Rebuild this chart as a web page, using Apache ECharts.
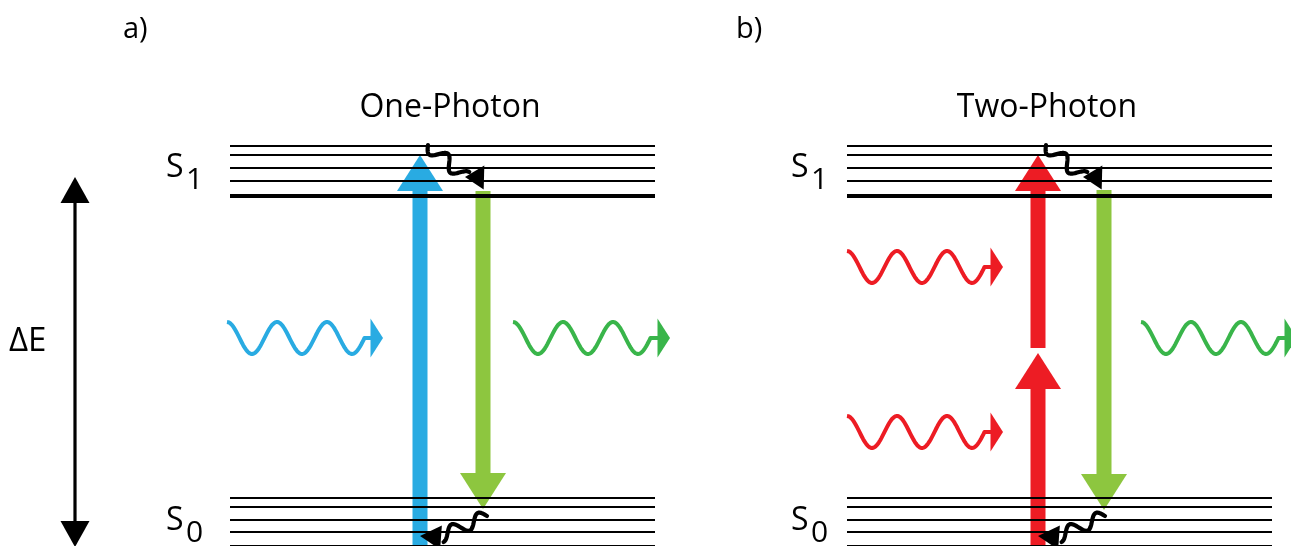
<!DOCTYPE html>
<html>
<head>
<meta charset="utf-8">
<title>One-photon vs two-photon excitation</title>
<script src="https://cdn.jsdelivr.net/npm/echarts@6/dist/echarts.min.js"></script>
<style>
  html, body { margin: 0; padding: 0; background: #fff; }
  #chart { width: 1291px; height: 546px; }
</style>
</head>
<body>
<div id="chart"></div>
<script>
// diagram units follow the picture: x to the right, energy axis drawn downwards
const panelLetters = ['a)', 'b)']
const panelLetterX = [123, 736]
const panelTitles = ['One-Photon', 'Two-Photon']
const panelTitleX = [450, 1047]
const levelSpans = [[230, 655], [847, 1272]]
const s1Levels = [146, 155, 168, 181, 196]
const s0Levels = [498, 507, 520, 532, 547]
const stateLabelX = [166, 791]
const stateNames = ['S1', 'S0']
const stateLabelY = [168, 521]

// vertical transitions: [x, from, to]
const transitions = [
  [420, 560, 155],
  [483, 191, 509],
  [1038, 347, 155],
  [1038, 560, 353],
  [1104, 190, 510],
]
const transitionColours = ['#29abe2', '#8dc63f', '#ed1c24', '#ed1c24', '#8dc63f']

// photons: [xStart, xTip, yMid]
const photons = [
  [227, 383, 338],
  [513, 670, 338],
  [847, 1003, 267],
  [847, 1003, 432],
  [1141, 1297, 338],
]
const photonColours = ['#29abe2', '#39b54a', '#ed1c24', '#ed1c24', '#39b54a']

// vibrational relaxation: [xFrom, yFrom, xTo, yTo, xApex, yApex, xBase, yBase]
const relaxations = [
  [428, 145, 465, 177, 465, 177, 484, 177.5],
  [487, 516, 441, 536, 420, 536, 441, 537.5],
  [1046, 145, 1083, 177, 1083, 177, 1102, 177.5],
  [1105, 516, 1059, 536, 1038, 536, 1059, 537.5],
]

// energy gap arrow: [x, top, bottom]
const deltaE = [[75, 177, 547]]

const chart = echarts.init(document.getElementById('chart'), null, { renderer: 'canvas' })

const levelData = []
levelSpans.forEach((span) => {
  ;[s1Levels, s0Levels].forEach((levels) => {
    levels.forEach((y, i) => {
      levelData.push([span[0], span[1], y, i === levels.length - 1 ? 1 : 0])
    })
  })
})

// labels: [x, y] plus text / font / align looked up by index
const labelData = []
const labelMeta = []
panelLetters.forEach((t, i) => {
  labelData.push([panelLetterX[i], 30])
  labelMeta.push({ text: t, size: 29, align: 'left' })
})
panelTitles.forEach((t, i) => {
  labelData.push([panelTitleX[i], 108])
  labelMeta.push({ text: t, size: 32, align: 'center' })
})
labelData.push([9, 342])
labelMeta.push({ text: 'ΔE', size: 33, align: 'left' })
stateLabelX.forEach((x) => {
  stateNames.forEach((name, j) => {
    labelData.push([x, stateLabelY[j]])
    labelMeta.push({ text: name[0], size: 32, align: 'left' })
    labelData.push([x + 20, stateLabelY[j] + 12])
    labelMeta.push({ text: name.slice(1), size: 30, align: 'left' })
  })
})

function transitionItem(params, api) {
  const x = api.value(0)
  const from = api.coord([x, api.value(1)])
  const to = api.coord([x, api.value(2)])
  const dir = to[1] < from[1] ? -1 : 1
  const headLen = 36
  const headHalf = 23
  const shaftHalf = 7.5
  const baseY = to[1] - dir * headLen
  const colour = transitionColours[params.dataIndex]
  return {
    type: 'group',
    children: [
      {
        type: 'rect',
        shape: {
          x: from[0] - shaftHalf,
          y: Math.min(from[1], baseY),
          width: shaftHalf * 2,
          height: Math.abs(baseY - from[1]) + 1,
        },
        style: { fill: colour },
      },
      {
        type: 'polygon',
        shape: {
          points: [
            [to[0] - headHalf, baseY],
            [to[0], to[1]],
            [to[0] + headHalf, baseY],
          ],
        },
        style: { fill: colour },
      },
    ],
  }
}

function photonItem(params, api) {
  const start = api.coord([api.value(0), api.value(2)])
  const tip = api.coord([api.value(1), api.value(2)])
  const period = 50
  const amp = 16
  const headLen = 12.5
  const headHalf = 19.5
  const colour = photonColours[params.dataIndex]
  const points = []
  const steps = 120
  for (let i = 0; i <= steps; i++) {
    const t = (i / steps) * 2.75 * period
    points.push([start[0] + t, start[1] - amp * Math.cos((2 * Math.PI * t) / period)])
  }
  points.push([tip[0] - headLen + 1, start[1]])
  return {
    type: 'group',
    children: [
      {
        type: 'polyline',
        shape: { points },
        style: { stroke: colour, lineWidth: 4, fill: null, lineJoin: 'round' },
      },
      {
        type: 'polygon',
        shape: {
          points: [
            [tip[0] - headLen, tip[1] - headHalf],
            [tip[0], tip[1]],
            [tip[0] - headLen, tip[1] + headHalf],
          ],
        },
        style: { fill: colour },
      },
    ],
  }
}

function levelItem(params, api) {
  const a = api.coord([api.value(0), api.value(2)])
  const b = api.coord([api.value(1), api.value(2)])
  return {
    type: 'line',
    shape: { x1: a[0], y1: a[1], x2: b[0], y2: b[1] },
    style: { stroke: '#000', lineWidth: api.value(3) ? 4 : 1.8 },
  }
}

function relaxationItem(params, api) {
  const a = api.coord([api.value(0), api.value(1)])
  const b = api.coord([api.value(2), api.value(3)])
  const apex = api.coord([api.value(4), api.value(5)])
  const base = api.coord([api.value(6), api.value(7)])
  const dx = b[0] - a[0]
  const dy = b[1] - a[1]
  const len = Math.hypot(dx, dy)
  const px = -dy / len
  const py = dx / len
  const amp = 6.5
  const points = []
  const steps = 80
  for (let i = 0; i <= steps; i++) {
    const t = i / steps
    const w = amp * Math.sin(2 * Math.PI * 1.75 * t)
    points.push([a[0] + dx * t + px * w, a[1] + dy * t + py * w])
  }
  const hx = base[0] - apex[0]
  const hy = base[1] - apex[1]
  const hl = Math.hypot(hx, hy)
  const half = 12
  const qx = (-hy / hl) * half
  const qy = (hx / hl) * half
  return {
    type: 'group',
    children: [
      {
        type: 'polyline',
        shape: { points },
        style: { stroke: '#000', lineWidth: 4.2, fill: null, lineJoin: 'round', lineCap: 'round' },
      },
      {
        type: 'polygon',
        shape: {
          points: [
            [apex[0], apex[1]],
            [base[0] + qx, base[1] + qy],
            [base[0] - qx, base[1] - qy],
          ],
        },
        style: { fill: '#000' },
      },
    ],
  }
}

function deltaEItem(params, api) {
  const top = api.coord([api.value(0), api.value(1)])
  const bottom = api.coord([api.value(0), api.value(2)])
  const headLen = 26
  const headHalf = 14.5
  return {
    type: 'group',
    children: [
      {
        type: 'line',
        shape: { x1: top[0], y1: top[1] + headLen - 1, x2: bottom[0], y2: bottom[1] - headLen + 1 },
        style: { stroke: '#000', lineWidth: 3.2 },
      },
      {
        type: 'polygon',
        shape: { points: [[top[0], top[1]], [top[0] + headHalf, top[1] + headLen], [top[0] - headHalf, top[1] + headLen]] },
        style: { fill: '#000' },
      },
      {
        type: 'polygon',
        shape: { points: [[bottom[0], bottom[1]], [bottom[0] + headHalf, bottom[1] - headLen], [bottom[0] - headHalf, bottom[1] - headLen]] },
        style: { fill: '#000' },
      },
    ],
  }
}

function labelItem(params, api) {
  const p = api.coord([api.value(0), api.value(1)])
  const meta = labelMeta[params.dataIndex]
  return {
    type: 'text',
    x: p[0],
    y: p[1],
    style: {
      text: meta.text,
      fill: '#000',
      font: meta.size + 'px "Open Sans"',
      align: meta.align,
      verticalAlign: 'middle',
    },
  }
}

const option = {
  animation: false,
  backgroundColor: '#fff',
  grid: { left: 0, right: 0, top: 0, bottom: 0 },
  xAxis: { type: 'value', min: 0, max: 1291, show: false },
  yAxis: { type: 'value', min: 0, max: 546, inverse: true, show: false },
  series: [
    { type: 'custom', name: 'transitions', data: transitions, renderItem: transitionItem, silent: true },
    { type: 'custom', name: 'photons', data: photons, renderItem: photonItem, silent: true },
    { type: 'custom', name: 'levels', data: levelData, renderItem: levelItem, silent: true },
    { type: 'custom', name: 'relaxation', data: relaxations, renderItem: relaxationItem, silent: true },
    { type: 'custom', name: 'deltaE', data: deltaE, renderItem: deltaEItem, silent: true },
    { type: 'custom', name: 'labels', data: labelData, renderItem: labelItem, silent: true },
  ],
}

chart.setOption(option)
</script>
</body>
</html>
